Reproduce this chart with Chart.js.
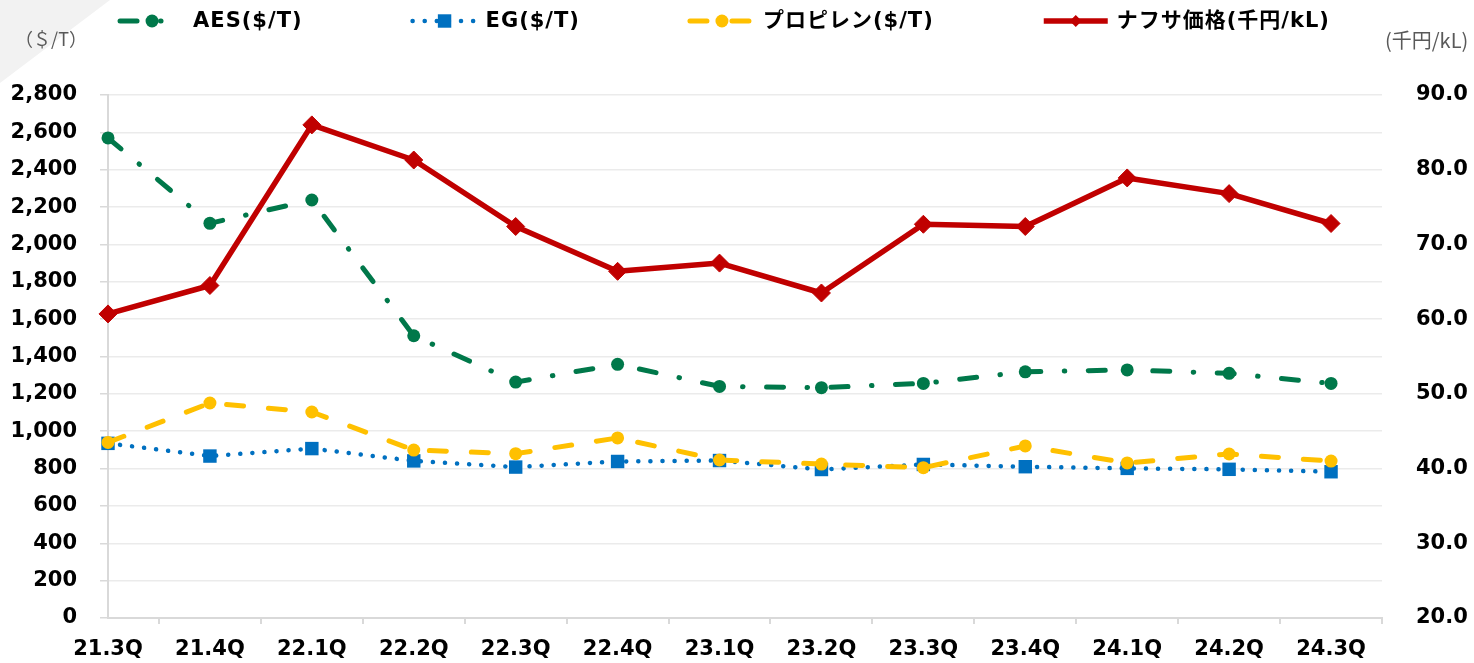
<!DOCTYPE html>
<html>
<head>
<meta charset="utf-8">
<script src="https://cdn.jsdelivr.net/npm/chart.js@4"></script>
<style>
  html, body { margin: 0; padding: 0; background: #fff; }
  canvas { display: block; }
</style>
</head>
<body>
<canvas id="myChart" width="1474" height="663"></canvas>
<script>
const labels = ['21.3Q', '21.4Q', '22.1Q', '22.2Q', '22.3Q', '22.4Q', '23.1Q', '23.2Q', '23.3Q', '23.4Q', '24.1Q', '24.2Q', '24.3Q'];
const aes = [2570, 2113, 2238, 1511, 1263, 1358, 1240, 1233, 1256, 1318, 1328, 1310, 1256];
const eg = [935, 867, 907, 841, 808, 838, 843, 795, 822, 810, 801, 796, 783];
const propylene = [940, 1151, 1103, 899, 880, 964, 846, 824, 805, 921, 830, 878, 840];
const naphtha = [60.7, 64.5, 86.0, 81.3, 72.4, 66.4, 67.5, 63.5, 72.7, 72.4, 78.9, 76.8, 72.8];

const FONT = '"DejaVu Sans", "Noto Sans CJK JP", sans-serif';
const GREEN = '#00784A', BLUE = '#0070C0', YELLOW = '#FFC000', RED = '#C00000';

const toPoints = values => values.map((v, i) => ({x: i, y: v}));

function drawMarker(ctx, ds, x, y, r) {
  ctx.fillStyle = ds.pointBackgroundColor;
  ctx.beginPath();
  if (ds.pointStyle === 'circle') {
    ctx.arc(x, y, r, 0, Math.PI * 2);
  } else if (ds.pointStyle === 'rect') {
    const s = r * Math.SQRT1_2;
    ctx.rect(x - s, y - s, 2 * s, 2 * s);
  } else {
    ctx.moveTo(x - r, y); ctx.lineTo(x, y - r); ctx.lineTo(x + r, y); ctx.lineTo(x, y + r);
    ctx.closePath();
  }
  ctx.fill();
}

// corner shade, custom line+marker legend, axis unit labels
const decor = {
  id: 'decor',
  beforeDraw(chart) {
    const ctx = chart.ctx;
    ctx.save();
    ctx.fillStyle = '#f2f2f2';
    ctx.beginPath();
    ctx.moveTo(0, 0); ctx.lineTo(110, 0); ctx.lineTo(0, 83); ctx.closePath();
    ctx.fill();
    ctx.restore();
  },
  afterDraw(chart) {
    const ctx = chart.ctx;
    const sets = chart.data.datasets;
    ctx.save();
    ctx.font = 'bold 21px ' + FONT;
    ctx.letterSpacing = '1px';
    const sampleW = 64, textGap = 9, itemGap = 110;
    const widths = sets.map(ds => sampleW + textGap + ctx.measureText(ds.label).width);
    const total = widths.reduce((a, b) => a + b, 0) + itemGap * (sets.length - 1);
    let x = 725 - total / 2;
    const y = 21;
    sets.forEach((ds, i) => {
      ctx.beginPath();
      ctx.setLineDash(ds.borderDash || []);
      ctx.lineCap = ds.borderCapStyle || 'butt';
      ctx.lineWidth = ds.borderWidth;
      ctx.strokeStyle = ds.borderColor;
      ctx.moveTo(x, y); ctx.lineTo(x + sampleW, y);
      ctx.stroke();
      ctx.setLineDash([]);
      drawMarker(ctx, ds, x + sampleW / 2, y, ds.pointStyle === 'rectRot' ? 6 : ds.pointRadius);
      ctx.fillStyle = '#000';
      ctx.textBaseline = 'middle';
      ctx.textAlign = 'left';
      ctx.fillText(ds.label, x + sampleW + textGap, y + 1);
      x += widths[i] + itemGap;
    });
    ctx.letterSpacing = '0px';

    ctx.fillStyle = '#595959';
    ctx.font = '18px "Noto Sans CJK JP", sans-serif';
    ctx.textAlign = 'center';
    ctx.fillText('（＄/T）', 51, 39);
    ctx.font = '20px "Noto Sans CJK JP", sans-serif';
    ctx.textAlign = 'left';
    ctx.fillText('(千円/kL)', 1385, 40);
    ctx.restore();
  }
};

const tickFont = {family: FONT, size: 21, weight: 'bold'};

const ctx = document.getElementById('myChart').getContext('2d');
const myChart = new Chart(ctx, {
  type: 'line',
  data: {
    datasets: [{
      label: 'AES($/T)',
      data: toPoints(aes),
      yAxisID: 'y',
      borderColor: GREEN,
      pointBackgroundColor: GREEN,
      pointBorderColor: GREEN,
      borderWidth: 5,
      borderDash: [17, 23.5, 0.5, 23.5],
      borderCapStyle: 'round',
      pointStyle: 'circle',
      pointRadius: 6.5,
      pointBorderWidth: 0,
      order: 4
    }, {
      label: 'EG($/T)',
      data: toPoints(eg),
      yAxisID: 'y',
      borderColor: BLUE,
      pointBackgroundColor: BLUE,
      pointBorderColor: BLUE,
      borderWidth: 4.5,
      borderDash: [0.1, 12],
      borderCapStyle: 'round',
      pointStyle: 'rect',
      pointRadius: 9.5,
      pointBorderWidth: 0,
      order: 3
    }, {
      label: 'プロピレン($/T)',
      data: toPoints(propylene),
      yAxisID: 'y',
      borderColor: YELLOW,
      pointBackgroundColor: YELLOW,
      pointBorderColor: YELLOW,
      borderWidth: 5,
      borderDash: [17, 25],
      borderCapStyle: 'round',
      pointStyle: 'circle',
      pointRadius: 6.5,
      pointBorderWidth: 0,
      order: 2
    }, {
      label: 'ナフサ価格(千円/kL)',
      data: toPoints(naphtha),
      yAxisID: 'y1',
      borderColor: RED,
      pointBackgroundColor: RED,
      pointBorderColor: RED,
      borderWidth: 5.5,
      pointStyle: 'rectRot',
      pointRadius: 9,
      pointBorderWidth: 1,
      order: 1
    }]
  },
  options: {
    responsive: false,
    animation: false,
    layout: {padding: {top: 95, left: 0, right: 0, bottom: 0}},
    elements: {line: {tension: 0, borderJoinStyle: 'round'}},
    datasets: {line: {clip: false}},
    plugins: {
      legend: {display: false},
      tooltip: {enabled: false}
    },
    scales: {
      x: {
        type: 'linear',
        min: 0,
        max: 12.5,
        afterBuildTicks: scale => {
          scale.ticks = Array.from({length: 26}, (_, i) => ({value: i * 0.5}));
        },
        ticks: {
          autoSkip: false,
          maxRotation: 0,
          padding: 13,
          color: '#000',
          font: tickFont,
          callback: v => Number.isInteger(v) ? labels[v] : ''
        },
        grid: {
          drawOnChartArea: false,
          tickLength: 6,
          lineWidth: 2,
          tickColor: c => (c.tick && c.tick.value % 1 !== 0) ? '#d9d9d9' : 'rgba(0,0,0,0)'
        },
        border: {color: '#d9d9d9', width: 2},
        afterFit: s => { s.height = 45; }
      },
      y: {
        position: 'left',
        min: 0,
        max: 2800,
        ticks: {
          stepSize: 200,
          padding: 23,
          color: '#000',
          font: tickFont,
          callback: v => v.toLocaleString('en-US')
        },
        grid: {color: '#ebebeb', lineWidth: 1.5, tickLength: 8, tickColor: '#d9d9d9'},
        border: {color: '#d9d9d9', width: 2},
        afterFit: s => { s.width = 108; }
      },
      y1: {
        position: 'right',
        min: 20,
        max: 90,
        ticks: {
          stepSize: 10,
          padding: 26,
          color: '#000',
          font: tickFont,
          callback: v => v.toFixed(1)
        },
        grid: {display: false},
        border: {display: false},
        afterFit: s => { s.width = 92; }
      }
    }
  },
  plugins: [decor]
});
</script>
</body>
</html>
